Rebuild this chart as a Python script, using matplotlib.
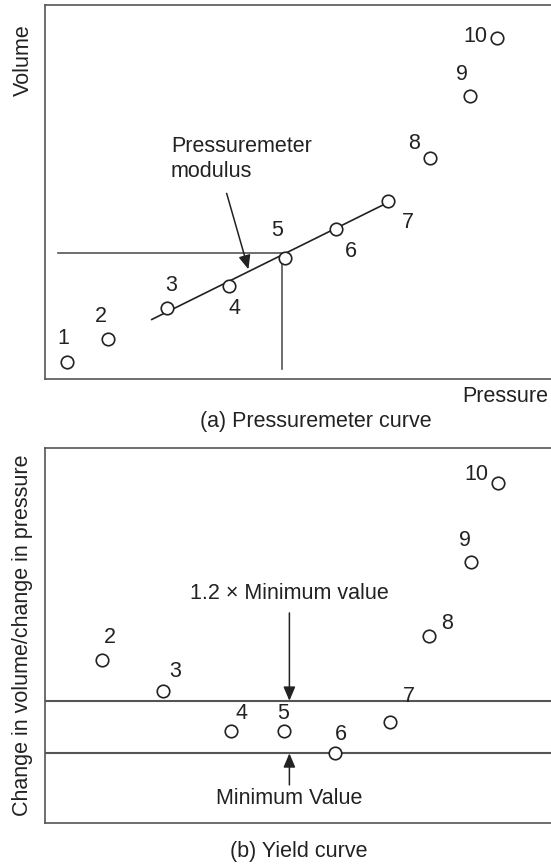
import numpy as np
import matplotlib
matplotlib.use('agg')
import matplotlib.pyplot as plt

plt.rcParams['font.family'] = ['Liberation Sans', 'DejaVu Sans']
plt.rcParams['font.size'] = 15.5

# (a) pressuremeter readings, arbitrary units
pressure = [4.4, 12.5, 24.2, 36.3, 47.4, 57.6, 67.7, 76.1, 84.0, 89.4]
volume = [4.5, 10.8, 18.9, 24.9, 32.2, 40.2, 47.6, 59.1, 75.7, 91.0]
point_ids = ['1', '2', '3', '4', '5', '6', '7', '8', '9', '10']

# straight-line part used for the modulus
fit_p = [21.1, 66.8]
fit_v = [15.9, 46.5]

# (b) yield curve, dV/dp for readings 2..10
pressure_b = [11.3, 23.4, 36.8, 47.2, 57.3, 68.2, 75.9, 84.1, 89.6]
dv_dp = [6.77, 6.18, 5.42, 5.42, 5.00, 5.59, 7.24, 8.64, 10.14]
point_ids_b = point_ids[1:]

# label offsets (pixels) from each circle
offs_a = [(-4, 24), (-7, 22), (4, 23), (6, -23), (-8, 28), (14, -23),
          (20, -22), (-16, 14), (-8, 21), (-22, 2)]
offs_b = [(8, 23), (12, 20), (10, 18), (-1, 18), (6, 19), (19, 26),
          (18, 12), (-6, 21), (-22, 9)]

line_col = '#555555'
mark_col = '#222222'

W, H = 551, 868
fig = plt.figure(figsize=(W / 100, H / 100), dpi=100)

def px_axes(x0, y0, x1, y1):
    return fig.add_axes([x0 / W, 1 - y1 / H, (x1 - x0) / W, (y1 - y0) / H])

def style(ax):
    ax.set_xticks([])
    ax.set_yticks([])
    for s in ['left', 'bottom', 'top']:
        ax.spines[s].set_color(line_col)
        ax.spines[s].set_linewidth(1.2)
    ax.spines['right'].set_visible(False)

marker_kw = dict(ls='none', marker='o', ms=9, mfc='white', mec=mark_col,
                 mew=1.2, zorder=5)
head = dict(arrowstyle='-|>,head_length=0.7,head_width=0.3', color=mark_col,
            lw=1.1, mutation_scale=12, shrinkA=0, shrinkB=0)

# ---- (a) pressuremeter curve
ax1 = px_axes(45, 4.7, 551, 379)
style(ax1)
ax1.set_xlim(0, 100)
ax1.set_ylim(0, 100)

corner_p, corner_v = 46.9, 33.7
ax1.plot([2.6, corner_p], [corner_v, corner_v], color=line_col, lw=1.2)
ax1.plot([corner_p, corner_p], [corner_v, 2.6], color=line_col, lw=1.2)
ax1.plot(fit_p, fit_v, color=mark_col, lw=1.2, zorder=4)
ax1.plot(pressure, volume, **marker_kw)
for p, v, t, (dx, dy) in zip(pressure, volume, point_ids, offs_a):
    ax1.annotate(t, (p, v), xytext=(dx, dy), textcoords='offset pixels',
                 ha='center', va='center', color=mark_col)

ax1.annotate('', xy=(40.2, 29.3), xytext=(35.9, 49.6), arrowprops=head)
ax1.text(24.9, 58.8, 'Pressuremeter\nmodulus', ha='left', va='center',
         linespacing=1.3, color=mark_col)

fig.text(23 / W, 1 - 60 / H, 'Volume', rotation=90, ha='center', va='center',
         color=mark_col)
fig.text(548 / W, 1 - 397 / H, 'Pressure', ha='right', va='center',
         color=mark_col)
fig.text(316 / W, 1 - 421 / H, '(a) Pressuremeter curve', ha='center',
         va='center', color=mark_col)

# ---- (b) yield curve
ax2 = px_axes(45, 448.3, 551, 823.3)
style(ax2)
ax2.set_xlim(0, 100)
ax2.set_ylim(3.67, 10.80)

min_val = min(dv_dp)
ax2.axhline(min_val, color=line_col, lw=1.5)
ax2.axhline(1.2 * min_val, color=line_col, lw=1.5)
ax2.plot(pressure_b, dv_dp, **marker_kw)
for p, v, t, (dx, dy) in zip(pressure_b, dv_dp, point_ids_b, offs_b):
    ax2.annotate(t, (p, v), xytext=(dx, dy), textcoords='offset pixels',
                 ha='center', va='center', color=mark_col)

arrow_x = 48.3
ax2.annotate('', xy=(arrow_x, 1.2 * min_val), xytext=(arrow_x, 7.67),
             arrowprops=head)
ax2.annotate('', xy=(arrow_x, min_val), xytext=(arrow_x, 4.40),
             arrowprops=head)
ax2.text(arrow_x, 8.03, '1.2 \u00d7 Minimum value', ha='center', va='center',
         color=mark_col)
ax2.text(arrow_x, 4.14, 'Minimum Value', ha='center', va='center',
         color=mark_col)

fig.text(23 / W, 1 - 635 / H, 'Change in volume/change in pressure',
         rotation=90, ha='center', va='center', color=mark_col)
fig.text(299 / W, 1 - 851 / H, '(b) Yield curve', ha='center', va='center',
         color=mark_col)

fig.savefig('out.png', dpi=100)
